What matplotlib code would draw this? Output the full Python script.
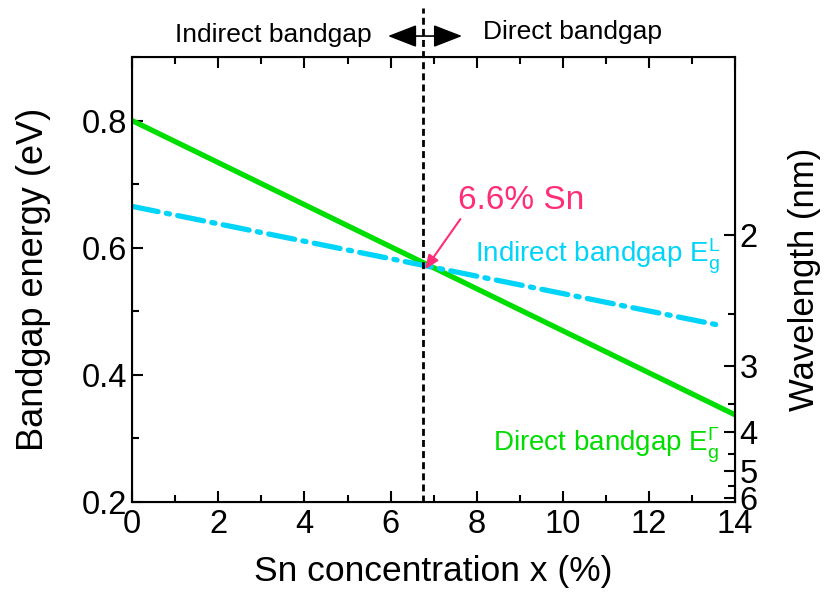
import numpy as np
import matplotlib.pyplot as plt
from matplotlib.ticker import MultipleLocator, FixedLocator, NullFormatter

plt.rcParams['font.family'] = ['Liberation Sans', 'DejaVu Sans']
plt.rcParams['mathtext.fontset'] = 'custom'
plt.rcParams['mathtext.rm'] = 'Liberation Sans'
plt.rcParams['mathtext.it'] = 'Liberation Sans'

# data
sn_x = [0, 14]
direct_E = [0.80, 0.337]
indirect_x = [0, 13.56]
indirect_E = [0.665, 0.479]
crossover_x = 6.75
crossover_E = 0.566
wl_major = [2, 3, 4, 5, 6]
wl_minor = [2.5, 3.5, 4.5, 5.5]

green = '#00DD00'
cyan = '#00D4F8'
pink = '#FF2D78'

fig = plt.figure(figsize=(8.26, 5.94), dpi=100)
ax = fig.add_axes([0.160, 0.155, 0.730, 0.749])

ax.plot(sn_x, direct_E, color=green, lw=3.8, solid_capstyle='butt')
ax.plot(indirect_x, indirect_E, color=cyan, lw=3.8, dashes=(5, 1.6, 0.6, 1.6), dash_capstyle='round')
ax.axvline(crossover_x, ymin=0, ymax=1.11, color='black', lw=2, ls=(0, (2.5, 1.5)), clip_on=False)

ax.set_xlim(0, 14)
ax.set_ylim(0.2, 0.9)
ax.xaxis.set_major_locator(MultipleLocator(2))
ax.xaxis.set_minor_locator(MultipleLocator(1))
ax.yaxis.set_major_locator(MultipleLocator(0.2))
ax.yaxis.set_minor_locator(MultipleLocator(0.1))
ax.tick_params(which='both', direction='in', top=True, labelsize=23.5, width=1.5)
ax.tick_params(axis='x', pad=5)
ax.tick_params(which='major', length=8)
ax.tick_params(which='minor', length=5)
for s in ax.spines.values():
    s.set_linewidth(1.5)
ax.set_xlabel('Sn concentration x (%)', fontsize=25.5, labelpad=11)
ax.set_ylabel('Bandgap energy (eV)', fontsize=26, labelpad=22)

# right axis: wavelength = 1.24 / E
ax2 = ax.twinx()
ax2.set_ylim(0.2, 0.9)
ax2.yaxis.set_major_locator(FixedLocator([1.24 / w for w in wl_major]))
ax2.yaxis.set_minor_locator(FixedLocator([1.24 / w for w in wl_minor]))
ax2.set_yticklabels([str(w) for w in wl_major])
ax2.yaxis.set_minor_formatter(NullFormatter())
ax2.tick_params(which='both', direction='in', labelsize=23.5, width=1.5, pad=3)
ax2.tick_params(which='major', length=8)
ax2.tick_params(which='minor', length=5)
ax2.set_ylabel('Wavelength (nm)', fontsize=25, labelpad=22)

ax.text(5.57, 0.935, 'Indirect bandgap', fontsize=19, ha='right', va='center')
ax.text(8.15, 0.94, 'Direct bandgap', fontsize=19, ha='left', va='center')
ax.annotate('', xy=(5.94, 0.933), xytext=(7.66, 0.933), annotation_clip=False,
            arrowprops=dict(arrowstyle='<|-|>,head_length=0.9,head_width=0.35', color='black',
                            lw=1.2, shrinkA=0, shrinkB=0, mutation_scale=20))

ax.text(7.57, 0.661, '6.6% Sn', fontsize=24, color=pink, ha='left', va='baseline')
ax.annotate('', xy=(6.80, crossover_E), xytext=(7.62, 0.645),
            arrowprops=dict(arrowstyle='-|>,head_length=0.6,head_width=0.25', color=pink, lw=1.5,
                            mutation_scale=14, shrinkA=0, shrinkB=0))

ax.text(13.65, 0.577, r'Indirect bandgap E$_\mathregular{g}^\mathregular{L}$', color=cyan, fontsize=20,
        ha='right', va='baseline')
ax.text(13.65, 0.279, r'Direct bandgap E$_\mathregular{g}^\mathregular{\Gamma}$', color=green, fontsize=20,
        ha='right', va='baseline')

fig.savefig('out.png', dpi=100)
